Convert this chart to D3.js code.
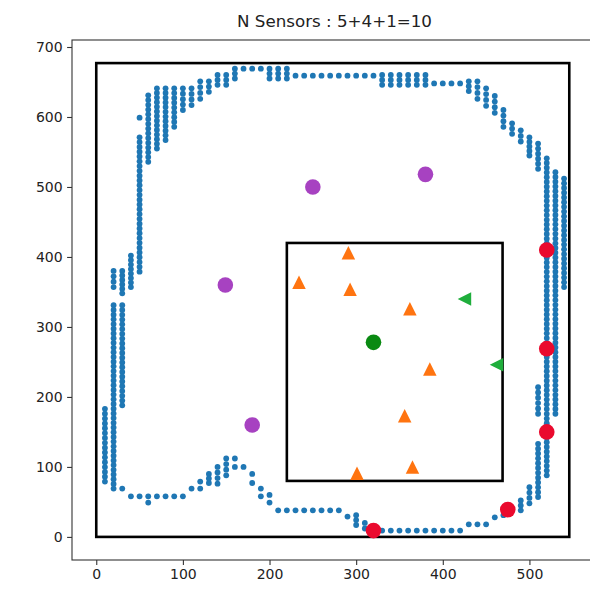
<!DOCTYPE html>
<html>
<head>
<meta charset="utf-8">
<script src="https://cdn.jsdelivr.net/npm/d3@7"></script>
<style>
  body { margin: 0; background: #fff; }
  svg { font-family: "DejaVu Sans", sans-serif; }
</style>
</head>
<body>
<svg></svg>
<script>
//chart title and tick values
var title = "N Sensors : 5+4+1=10";
var xTicks = [0, 100, 200, 300, 400, 500];
var yTicks = [0, 100, 200, 300, 400, 500, 600, 700];

//outer and inner boxes: [x0, x1, y0, y1]
var outerBox = [0, 546, 0, 677];
var innerBox = [220, 469, 80, 420];

//blue grid points stored as vertical runs: [x, yTop, yBottom, count]
var gridRuns = [
    [10, 183, 79, 16],
    [20, 380, 357, 4], [20, 331, 69, 40],
    [30, 380, 348, 6], [30, 331, 188, 22], [30, 69, 69, 1],
    [40, 402, 357, 8], [40, 58, 58, 1],
    [50, 599, 599, 1], [50, 571, 379, 29], [50, 58, 58, 1],
    [60, 631, 536, 15], [60, 58, 49, 2],
    [70, 641, 555, 14], [70, 58, 58, 1],
    [80, 641, 567, 12], [80, 58, 58, 1],
    [90, 641, 586, 9], [90, 58, 58, 1],
    [100, 641, 610, 5], [100, 58, 58, 1],
    [110, 641, 617, 4], [110, 69, 69, 1],
    [120, 651, 626, 4], [120, 79, 69, 2],
    [130, 651, 636, 3], [130, 90, 77, 3],
    [140, 660, 646, 3], [140, 100, 76, 4],
    [150, 660, 646, 3], [150, 112, 88, 4],
    [160, 669, 655, 3], [160, 112, 100, 2],
    [170, 669, 669, 1], [170, 100, 100, 1],
    [180, 669, 669, 1], [180, 90, 77, 2],
    [190, 669, 669, 1], [190, 69, 58, 2],
    [200, 669, 655, 3], [200, 60, 49, 2],
    [210, 669, 655, 3], [210, 38, 38, 1],
    [220, 669, 655, 3], [220, 38, 38, 1],
    [230, 659, 659, 1], [230, 38, 38, 1],
    [240, 659, 659, 1], [240, 38, 38, 1],
    [250, 659, 659, 1], [250, 38, 38, 1],
    [260, 659, 659, 1], [260, 38, 38, 1],
    [270, 659, 659, 1], [270, 38, 38, 1],
    [280, 659, 659, 1], [280, 38, 38, 1],
    [290, 659, 659, 1], [290, 29, 29, 1],
    [300, 659, 659, 1], [300, 31, 17, 3],
    [310, 659, 659, 1], [310, 20, 12, 2],
    [320, 659, 659, 1], [320, 9, 9, 1],
    [330, 660, 646, 3], [330, 9, 9, 1],
    [340, 660, 646, 3], [340, 9, 9, 1],
    [350, 660, 646, 3], [350, 9, 9, 1],
    [360, 660, 646, 3], [360, 9, 9, 1],
    [370, 660, 646, 3], [370, 9, 9, 1],
    [380, 660, 646, 3], [380, 9, 9, 1],
    [390, 648, 648, 1], [390, 9, 9, 1],
    [400, 648, 648, 1], [400, 9, 9, 1],
    [410, 648, 648, 1], [410, 9, 9, 1],
    [420, 648, 648, 1], [420, 9, 9, 1],
    [430, 651, 637, 3], [430, 18, 18, 1],
    [440, 651, 626, 4], [440, 18, 18, 1],
    [450, 641, 616, 4], [450, 18, 18, 1],
    [460, 630, 606, 4], [460, 28, 28, 1],
    [470, 610, 586, 4], [470, 31, 31, 1],
    [480, 591, 576, 3],
    [490, 581, 565, 3], [490, 52, 38, 3],
    [500, 571, 545, 5], [500, 71, 48, 4],
    [510, 562, 526, 6], [510, 214, 176, 6], [510, 133, 57, 12],
    [520, 541, 88, 68],
    [530, 521, 176, 52],
    [540, 512, 357, 24]
];

//sensor markers
var redX = [520, 520, 520, 475, 320];
var redY = [410, 269, 150, 39, 9];
var purpleX = [250, 380, 149, 180];
var purpleY = [500, 518, 360, 160];
var greenX = [320];
var greenY = [278];
var orangeX = [291, 234, 293, 362, 385, 356, 301, 365];
var orangeY = [406, 364, 354, 326, 240, 173, 91, 100];
var greenTriX = [425, 462];
var greenTriY = [340, 246];

/**
 * Expand the runs into single points
 */
function parseRuns(runs) {
    var arr = [];
    runs.forEach(function(r) {
        for (var i = 0; i < r[3]; i++) {
            var t = r[3] === 1 ? 0 : i / (r[3] - 1);
            arr.push({ x: r[0], y: r[1] + (r[2] - r[1]) * t });
        }
    });
    return arr;
}

function zip(xs, ys) {
    return xs.map(function(v, i) { return { x: v, y: ys[i] }; });
}

//matplotlib style triangle markers ('^' and '<')
var triUp = {
    draw: function(ctx, size) {
        var s = Math.sqrt(size) / 2;
        ctx.moveTo(0, -s); ctx.lineTo(s, s); ctx.lineTo(-s, s); ctx.closePath();
    }
};
var triLeft = {
    draw: function(ctx, size) {
        var s = Math.sqrt(size) / 2;
        ctx.moveTo(-s, 0); ctx.lineTo(s, -s); ctx.lineTo(s, s); ctx.closePath();
    }
};

function drawChart() {
    var svgWidth = 590, svgHeight = 594;
    var plot = { left: 72, top: 40, right: 597, bottom: 560 };

    var svg = d3.select("svg")
        .attr("width", svgWidth)
        .attr("height", svgHeight);

    var x = d3.scaleLinear().domain([-28, 578]).range([plot.left, plot.right]);
    var y = d3.scaleLinear().domain([-33, 710]).range([plot.bottom, plot.top]);

    //boxes
    [outerBox, innerBox].forEach(function(b) {
        svg.append("rect")
            .attr("x", x(b[0]))
            .attr("y", y(b[3]))
            .attr("width", x(b[1]) - x(b[0]))
            .attr("height", y(b[2]) - y(b[3]))
            .attr("fill", "none")
            .attr("stroke", "#000")
            .attr("stroke-width", 2.6);
    });

    //blue grid points
    svg.append("g").selectAll("circle")
        .data(parseRuns(gridRuns))
        .enter().append("circle")
        .attr("cx", function(d) { return x(d.x); })
        .attr("cy", function(d) { return y(d.y); })
        .attr("r", 2.9)
        .attr("fill", "#1f77b4");

    //triangles
    svg.append("g").selectAll("path")
        .data(zip(orangeX, orangeY))
        .enter().append("path")
        .attr("transform", function(d) { return "translate(" + x(d.x) + "," + y(d.y) + ")"; })
        .attr("d", d3.symbol(triUp, 13.5 * 13.5))
        .attr("fill", "#ff7410");

    svg.append("g").selectAll("path")
        .data(zip(greenTriX, greenTriY))
        .enter().append("path")
        .attr("transform", function(d) { return "translate(" + x(d.x) + "," + y(d.y) + ")"; })
        .attr("d", d3.symbol(triLeft, 13.5 * 13.5))
        .attr("fill", "#1fae3c");

    //circle sensors
    var groups = [
        { data: zip(purpleX, purpleY), color: "#a742c1" },
        { data: zip(redX, redY), color: "#ea0a2e" },
        { data: zip(greenX, greenY), color: "#0a8a12" }
    ];
    groups.forEach(function(gr) {
        svg.append("g").selectAll("circle")
            .data(gr.data)
            .enter().append("circle")
            .attr("cx", function(d) { return x(d.x); })
            .attr("cy", function(d) { return y(d.y); })
            .attr("r", 7.8)
            .attr("fill", gr.color);
    });

    //axes
    var xAxis = svg.append("g")
        .attr("transform", "translate(0," + plot.bottom + ")")
        .call(d3.axisBottom(x).tickValues(xTicks).tickSize(4.9).tickPadding(4.5));
    var yAxis = svg.append("g")
        .attr("transform", "translate(" + plot.left + ",0)")
        .call(d3.axisLeft(y).tickValues(yTicks).tickSize(4.9).tickPadding(4.5));
    [xAxis, yAxis].forEach(function(a) {
        a.select(".domain").remove();
        a.selectAll("line").attr("stroke", "#333").attr("stroke-width", 1.1);
        a.selectAll("text")
            .attr("fill", "#222")
            .style("font-size", "14px")
            .style("font-family", "DejaVu Sans");
    });

    //frame
    svg.append("rect")
        .attr("x", plot.left)
        .attr("y", plot.top)
        .attr("width", plot.right - plot.left)
        .attr("height", plot.bottom - plot.top)
        .attr("fill", "none")
        .attr("stroke", "#333")
        .attr("stroke-width", 1.1);

    //title
    svg.append("text")
        .attr("x", (plot.left + plot.right) / 2)
        .attr("y", 27)
        .attr("text-anchor", "middle")
        .attr("fill", "#222")
        .style("font-size", "16.7px")
        .text(title);
}

drawChart();
</script>
</body>
</html>
